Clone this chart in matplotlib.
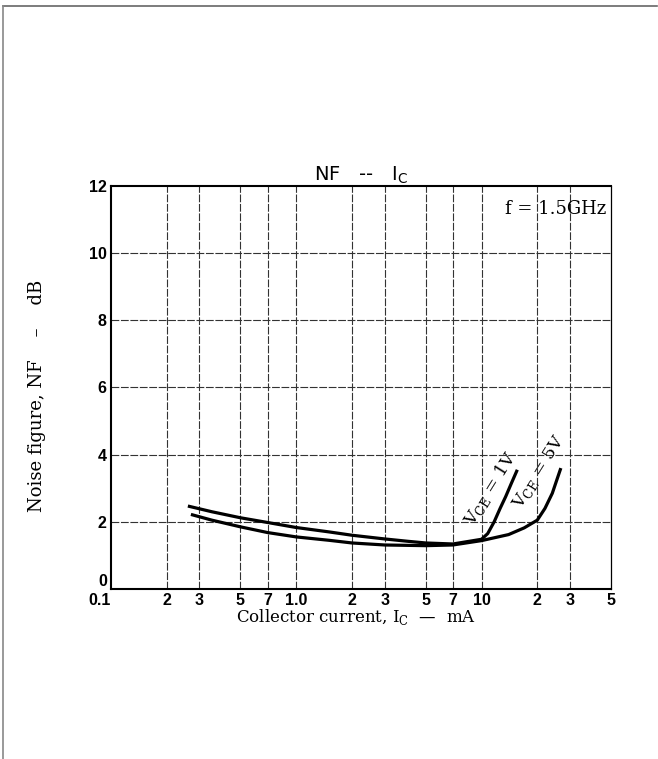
import matplotlib
matplotlib.use("Agg")
import matplotlib.pyplot as plt
from matplotlib.lines import Line2D

# collector current (mA) and noise figure (dB)
ic_1v = [0.26, 0.35, 0.5, 0.7, 1.0, 1.5, 2.0, 3.0, 4.0, 5.0, 7.0, 10.0, 10.8, 11.7, 12.6, 13.5, 14.5, 15.6]
nf_1v = [2.47, 2.30, 2.12, 1.98, 1.83, 1.70, 1.60, 1.49, 1.42, 1.37, 1.34, 1.48, 1.65, 2.00, 2.40, 2.75, 3.15, 3.55]

ic_5v = [0.27, 0.35, 0.5, 0.7, 1.0, 1.5, 2.0, 3.0, 5.0, 7.0, 10.0, 14.0, 17.0, 20.0, 22.0, 24.1, 25.5, 26.8]
nf_5v = [2.22, 2.05, 1.85, 1.68, 1.55, 1.45, 1.37, 1.31, 1.29, 1.31, 1.44, 1.62, 1.82, 2.05, 2.40, 2.85, 3.25, 3.60]

x_grid = [0.2, 0.3, 0.5, 0.7, 1.0, 2.0, 3.0, 5.0, 7.0, 10.0, 20.0, 30.0]
x_ticks = [0.1, 0.2, 0.3, 0.5, 0.7, 1.0, 2.0, 3.0, 5.0, 7.0, 10.0, 20.0, 30.0, 50.0]
x_labels = ["0.1", "2", "3", "5", "7", "1.0", "2", "3", "5", "7", "10", "2", "3", "5"]
y_ticks = [0, 2, 4, 6, 8, 10, 12]

serif = "DejaVu Serif"
sans = "Liberation Sans"

fig = plt.figure(figsize=(6.58, 7.59), dpi=100)
ax = fig.add_axes([0.1687, 0.224, 0.7599, 0.531])

# page frame of the scan (only top and left edges show)
fig.add_artist(Line2D([0.005, 0.999], [0.992, 0.992], color="#666666", lw=1.2,
                      transform=fig.transFigure))
fig.add_artist(Line2D([0.005, 0.005], [0.0, 0.992], color="#888888", lw=1.2,
                      transform=fig.transFigure))

ax.set_xscale("log")
ax.set_xlim(0.1, 50)
ax.set_ylim(0, 12)

for x in x_grid:
    ax.axvline(x, color="#333333", lw=0.8, ls=(0, (7, 1.5)), zorder=1)
for y in y_ticks[1:-1]:
    ax.axhline(y, color="#333333", lw=0.8, ls=(0, (7, 1.5)), zorder=1)

ax.plot(ic_1v, nf_1v, color="black", lw=2.3, solid_capstyle="butt", zorder=3)
ax.plot(ic_5v, nf_5v, color="black", lw=2.3, solid_capstyle="butt", zorder=3)

ax.set_xticks(x_ticks)
ax.set_xticklabels(x_labels)
ax.minorticks_off()
ax.set_yticks(y_ticks)
ax.tick_params(length=0, pad=3)
for lab in ax.get_xticklabels() + ax.get_yticklabels():
    lab.set_fontfamily(sans)
    lab.set_fontweight("bold")
    lab.set_fontsize(11.5)
# the "0" sits a little above the axis corner, clear of "0.1"
ax.get_yticklabels()[0].set_verticalalignment("bottom")
ax.get_xticklabels()[0].set_horizontalalignment("right")
ax.get_xticklabels()[0].set_x(0.115)

for s in ax.spines.values():
    s.set_linewidth(1.5)
ax.spines["right"].set_linewidth(0.9)

ax.set_title(r"NF   --   I$_\mathregular{C}$", fontfamily="DejaVu Sans", fontsize=14, pad=3)
ax.set_xlabel(r"Collector current, I$_\mathregular{C}$  —  mA", fontfamily=serif,
              fontsize=12)
ax.xaxis.set_label_coords(0.49, -0.045)
ax.set_ylabel("Noise figure, NF    –    dB", fontfamily=serif, fontsize=13)
ax.yaxis.set_label_coords(-0.13, 0.48)

ax.text(0.99, 0.965, "f = 1.5GHz", transform=ax.transAxes, ha="right", va="top",
        fontfamily=serif, fontsize=13)

ax.text(11.2, 2.98, r"V$_\mathregular{CE}$ = 1V", rotation=58, ha="center", va="center",
        fontfamily=serif, fontsize=12.5, rotation_mode="anchor", zorder=4)
ax.text(20.3, 3.48, r"V$_\mathregular{CE}$ = 5V", rotation=58, ha="center", va="center",
        fontfamily=serif, fontsize=12.5, rotation_mode="anchor", zorder=4)

fig.savefig("out.png", dpi=100)
